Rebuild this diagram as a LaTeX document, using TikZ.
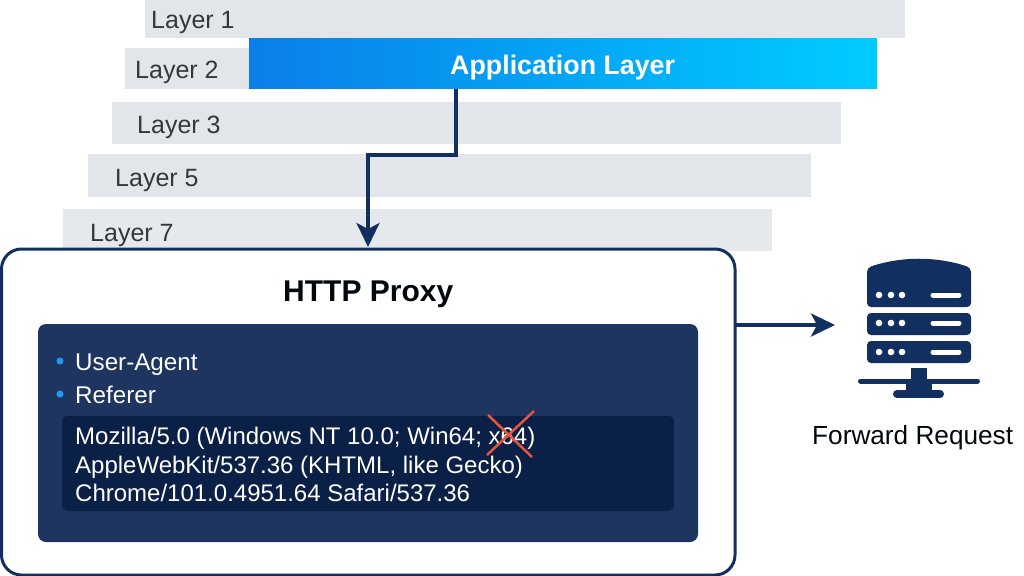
\documentclass[tikz,border=0pt]{standalone}
\usepackage{fontspec}
\setmainfont{Liberation Sans}
\usetikzlibrary{arrows.meta}
\usetikzlibrary{positioning}
\definecolor{navy}{HTML}{12305F}
\definecolor{panelblue}{HTML}{1E355F}
\definecolor{innerblue}{HTML}{0B2046}
\definecolor{bargray}{HTML}{E2E5E9}
\definecolor{labelgray}{HTML}{33383F}
\definecolor{crossred}{HTML}{E8553F}
\definecolor{dotblue}{HTML}{1E9BF0}
\definecolor{appleft}{HTML}{0A7EEA}
\definecolor{appright}{HTML}{00CCFF}
\tikzset{
	layerbar/.style = {fill=bargray, anchor=north west, inner sep=0pt, outer sep=0pt},
	layertext/.style = {anchor=base west, inner sep=0pt, text=labelgray, font=\fontsize{25}{28}\selectfont},
	paneltext/.style = {anchor=base west, inner sep=0pt, text=white, font=\fontsize{24.2}{28}\selectfont},
	uatext/.style = {anchor=base west, inner sep=0pt, text=white, font=\fontsize{24}{26}\selectfont},
	connector/.style = {draw=navy, line width=3.5pt, -{Stealth[length=24pt, width=23pt, inset=6pt]}},
	bulletdot/.style = {circle, fill=dotblue, inner sep=0pt, minimum size=7pt}
}
\newcommand{\srvslot}{\fill[white] (879,0) circle (3.3);
					\fill[white] (891,0) circle (3.3);
					\fill[white] (902,0) circle (3.3);
					\draw[white, line width=5pt, line cap=round] (933,0) -- (959,0);}
\begin{document}
\begin{tikzpicture}[x=1pt, y=-1pt]

					\useasboundingbox (0,0) rectangle (1024,575);

					% layer stack
					\node[layerbar, minimum width=760pt, minimum height=38pt] (bar1) at (145,0) {};
					\node[layerbar, minimum width=130pt, minimum height=41pt] (bar2) at (125,48) {};
					\node[layerbar, minimum width=729pt, minimum height=42pt] (bar3) at (112,102) {};
					\node[layerbar, minimum width=723pt, minimum height=43pt] (bar5) at (88,154) {};
					\node[layerbar, minimum width=709pt, minimum height=42pt, fill=bargray!85] (bar7) at (63,209) {};

					\node[layertext] (lab1) at (151,29) {Layer 1};
					\node[layertext] (lab2) at (135,79) {Layer 2};
					\node[layertext] (lab3) at (137,133) {Layer 3};
					\node[layertext] (lab5) at (115,186) {Layer 5};
					\node[layertext] (lab7) at (90,241) {Layer 7};

					\node[anchor=north west, inner sep=0pt, outer sep=0pt, minimum width=628pt, minimum height=50pt,
						left color=appleft, right color=appright] (app) at (249,39) {};
					\node[anchor=base west, inner sep=0pt, text=white, font=\bfseries\fontsize{26.8}{30}\selectfont] (applab) at (450,75) {Application Layer};

					% proxy box
					\node[draw=navy, line width=3pt, fill=white, rounded corners=20pt, anchor=north west, inner sep=0pt, outer sep=0pt,
						minimum width=733.5pt, minimum height=326pt] (proxy) at (1.5,249) {};
					\node[anchor=base west, inner sep=0pt, text=black!85!navy, font=\bfseries\fontsize{30}{34}\selectfont] (proxylab) at (283,301) {HTTP Proxy};

					\node[fill=panelblue, rounded corners=8pt, anchor=north west, inner sep=0pt, outer sep=0pt,
						minimum width=660pt, minimum height=218pt] (panel) at (38,324) {};
					\node[fill=innerblue, rounded corners=5pt, anchor=north west, inner sep=0pt, outer sep=0pt,
						minimum width=612pt, minimum height=95pt] (inner) at (62,416) {};

					\node[bulletdot] (dot1) at (60,361) {};
					\node[bulletdot] (dot2) at (60,394) {};
					\node[paneltext] (hdr1) at (75,370) {User-Agent};
					\node[paneltext] (hdr2) at (75,403) {Referer};

					\node[uatext] (ua1) at (75,444) {Mozilla/5.0 (Windows NT 10.0; Win64; x64)};
					\node[uatext] (ua2) at (75,473) {AppleWebKit/537.36 (KHTML, like Gecko)};
					\node[uatext] (ua3) at (75,501) {Chrome/101.0.4951.64 Safari/537.36};

					\draw[crossred, line width=2.5pt] (488,415) -- (532,457);
					\draw[crossred, line width=2.5pt] (534,411) -- (487,455);

					% connectors
					\coordinate (tap) at (456,89);
					\coordinate (entry) at (368,247);
					\coordinate (exit) at (736,325);
					\coordinate (srv) at (835,325);
					\draw[connector] (tap) -- (456,155) -- (368,155) -- (entry);
					\draw[connector] (exit) -- (srv);

					% server
					\fill[navy, rounded corners=4pt] (867,307) -- (867,268) -- (875,265) .. controls (905,257) and (933,257) .. (963,265) -- (971,268) -- (971,307) -- cycle;
					\fill[navy, rounded corners=4pt] (867,313) rectangle (971,335);
					\fill[navy, rounded corners=4pt] (867,341) rectangle (971,363);

					\begin{scope}[yshift=-295pt]
						\srvslot
					\end{scope}

					\begin{scope}[yshift=-323pt]
						\srvslot
					\end{scope}

					\begin{scope}[yshift=-352pt]
						\srvslot
					\end{scope}

					\fill[navy] (911,368) rectangle (927,381);
					\draw[navy, line width=5pt, line cap=round] (860.5,381) -- (977.5,381);
					\fill[navy] (906,381) rectangle (932,392);
					\draw[navy, line width=8pt, line cap=round] (897,394) -- (940,394);

					\node[anchor=base west, inner sep=0pt, text=black!85!navy, font=\fontsize{26.2}{30}\selectfont] (fwd) at (812,444) {Forward Request};

\end{tikzpicture}
\end{document}
